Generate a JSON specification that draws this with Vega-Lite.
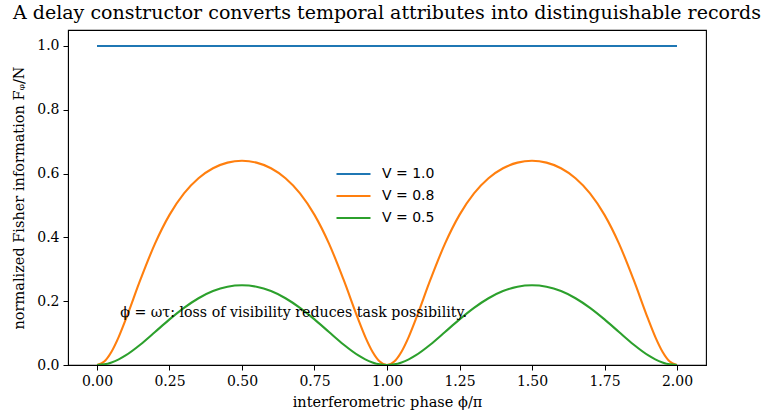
{
  "$schema": "https://vega.github.io/schema/vega-lite/v6.json",
  "width": 638,
  "height": 335,
  "autosize": {"type": "none"},
  "padding": {"left": 68, "top": 30, "right": 62, "bottom": 55},
  "background": "white",
  "title": {
    "text": "A delay constructor converts temporal attributes into distinguishable records",
    "font": "DejaVu Serif",
    "fontSize": 19,
    "fontWeight": "normal",
    "color": "#000000",
    "anchor": "middle",
    "frame": "group",
    "baseline": "bottom",
    "offset": 8,
    "dy": 20
  },
  "config": {
    "view": {"stroke": "#000000", "strokeWidth": 1.1},
    "axis": {
      "grid": false,
      "domainColor": "#000000",
      "tickColor": "#000000",
      "tickSize": 5,
      "labelFont": "DejaVu Serif",
      "labelFontSize": 14,
      "labelColor": "#000000",
      "labelPadding": 4,
      "titleFont": "DejaVu Serif",
      "titleFontSize": 14.5,
      "titleFontWeight": "normal",
      "titleColor": "#000000"
    }
  },
  "datasets": {
    "fisher": [
      {"phi": 0.00, "F": 1, "V": "V = 1.0"},
      {"phi": 0.50, "F": 1, "V": "V = 1.0"},
      {"phi": 1.00, "F": 1, "V": "V = 1.0"},
      {"phi": 1.50, "F": 1, "V": "V = 1.0"},
      {"phi": 2.00, "F": 1, "V": "V = 1.0"},

      {"phi": 0.000, "F": 0.0, "V": "V = 0.8"},
      {"phi": 0.025, "F": 0.0108, "V": "V = 0.8"},
      {"phi": 0.050, "F": 0.0417, "V": "V = 0.8"},
      {"phi": 0.075, "F": 0.0883, "V": "V = 0.8"},
      {"phi": 0.10, "F": 0.1451, "V": "V = 0.8"},
      {"phi": 0.15, "F": 0.2682, "V": "V = 0.8"},
      {"phi": 0.20, "F": 0.3805, "V": "V = 0.8"},
      {"phi": 0.25, "F": 0.4706, "V": "V = 0.8"},
      {"phi": 0.30, "F": 0.5378, "V": "V = 0.8"},
      {"phi": 0.35, "F": 0.5853, "V": "V = 0.8"},
      {"phi": 0.40, "F": 0.6166, "V": "V = 0.8"},
      {"phi": 0.45, "F": 0.6343, "V": "V = 0.8"},
      {"phi": 0.50, "F": 0.64, "V": "V = 0.8"},
      {"phi": 0.55, "F": 0.6343, "V": "V = 0.8"},
      {"phi": 0.60, "F": 0.6166, "V": "V = 0.8"},
      {"phi": 0.65, "F": 0.5853, "V": "V = 0.8"},
      {"phi": 0.70, "F": 0.5378, "V": "V = 0.8"},
      {"phi": 0.75, "F": 0.4706, "V": "V = 0.8"},
      {"phi": 0.80, "F": 0.3805, "V": "V = 0.8"},
      {"phi": 0.85, "F": 0.2682, "V": "V = 0.8"},
      {"phi": 0.90, "F": 0.1451, "V": "V = 0.8"},
      {"phi": 0.925, "F": 0.0883, "V": "V = 0.8"},
      {"phi": 0.950, "F": 0.0417, "V": "V = 0.8"},
      {"phi": 0.975, "F": 0.0108, "V": "V = 0.8"},
      {"phi": 1.000, "F": 0.0, "V": "V = 0.8"},
      {"phi": 1.025, "F": 0.0108, "V": "V = 0.8"},
      {"phi": 1.050, "F": 0.0417, "V": "V = 0.8"},
      {"phi": 1.075, "F": 0.0883, "V": "V = 0.8"},
      {"phi": 1.10, "F": 0.1451, "V": "V = 0.8"},
      {"phi": 1.15, "F": 0.2682, "V": "V = 0.8"},
      {"phi": 1.20, "F": 0.3805, "V": "V = 0.8"},
      {"phi": 1.25, "F": 0.4706, "V": "V = 0.8"},
      {"phi": 1.30, "F": 0.5378, "V": "V = 0.8"},
      {"phi": 1.35, "F": 0.5853, "V": "V = 0.8"},
      {"phi": 1.40, "F": 0.6166, "V": "V = 0.8"},
      {"phi": 1.45, "F": 0.6343, "V": "V = 0.8"},
      {"phi": 1.50, "F": 0.64, "V": "V = 0.8"},
      {"phi": 1.55, "F": 0.6343, "V": "V = 0.8"},
      {"phi": 1.60, "F": 0.6166, "V": "V = 0.8"},
      {"phi": 1.65, "F": 0.5853, "V": "V = 0.8"},
      {"phi": 1.70, "F": 0.5378, "V": "V = 0.8"},
      {"phi": 1.75, "F": 0.4706, "V": "V = 0.8"},
      {"phi": 1.80, "F": 0.3805, "V": "V = 0.8"},
      {"phi": 1.85, "F": 0.2682, "V": "V = 0.8"},
      {"phi": 1.90, "F": 0.1451, "V": "V = 0.8"},
      {"phi": 1.925, "F": 0.0883, "V": "V = 0.8"},
      {"phi": 1.950, "F": 0.0417, "V": "V = 0.8"},
      {"phi": 1.975, "F": 0.0108, "V": "V = 0.8"},
      {"phi": 2.000, "F": 0.0, "V": "V = 0.8"},

      {"phi": 0.000, "F": 0.0, "V": "V = 0.5"},
      {"phi": 0.025, "F": 0.0020, "V": "V = 0.5"},
      {"phi": 0.050, "F": 0.0081, "V": "V = 0.5"},
      {"phi": 0.075, "F": 0.0178, "V": "V = 0.5"},
      {"phi": 0.10, "F": 0.0308, "V": "V = 0.5"},
      {"phi": 0.15, "F": 0.0643, "V": "V = 0.5"},
      {"phi": 0.20, "F": 0.1033, "V": "V = 0.5"},
      {"phi": 0.25, "F": 0.1429, "V": "V = 0.5"},
      {"phi": 0.30, "F": 0.1791, "V": "V = 0.5"},
      {"phi": 0.35, "F": 0.2093, "V": "V = 0.5"},
      {"phi": 0.40, "F": 0.2317, "V": "V = 0.5"},
      {"phi": 0.45, "F": 0.2454, "V": "V = 0.5"},
      {"phi": 0.50, "F": 0.25, "V": "V = 0.5"},
      {"phi": 0.55, "F": 0.2454, "V": "V = 0.5"},
      {"phi": 0.60, "F": 0.2317, "V": "V = 0.5"},
      {"phi": 0.65, "F": 0.2093, "V": "V = 0.5"},
      {"phi": 0.70, "F": 0.1791, "V": "V = 0.5"},
      {"phi": 0.75, "F": 0.1429, "V": "V = 0.5"},
      {"phi": 0.80, "F": 0.1033, "V": "V = 0.5"},
      {"phi": 0.85, "F": 0.0643, "V": "V = 0.5"},
      {"phi": 0.90, "F": 0.0308, "V": "V = 0.5"},
      {"phi": 0.925, "F": 0.0178, "V": "V = 0.5"},
      {"phi": 0.950, "F": 0.0081, "V": "V = 0.5"},
      {"phi": 0.975, "F": 0.0020, "V": "V = 0.5"},
      {"phi": 1.000, "F": 0.0, "V": "V = 0.5"},
      {"phi": 1.025, "F": 0.0020, "V": "V = 0.5"},
      {"phi": 1.050, "F": 0.0081, "V": "V = 0.5"},
      {"phi": 1.075, "F": 0.0178, "V": "V = 0.5"},
      {"phi": 1.10, "F": 0.0308, "V": "V = 0.5"},
      {"phi": 1.15, "F": 0.0643, "V": "V = 0.5"},
      {"phi": 1.20, "F": 0.1033, "V": "V = 0.5"},
      {"phi": 1.25, "F": 0.1429, "V": "V = 0.5"},
      {"phi": 1.30, "F": 0.1791, "V": "V = 0.5"},
      {"phi": 1.35, "F": 0.2093, "V": "V = 0.5"},
      {"phi": 1.40, "F": 0.2317, "V": "V = 0.5"},
      {"phi": 1.45, "F": 0.2454, "V": "V = 0.5"},
      {"phi": 1.50, "F": 0.25, "V": "V = 0.5"},
      {"phi": 1.55, "F": 0.2454, "V": "V = 0.5"},
      {"phi": 1.60, "F": 0.2317, "V": "V = 0.5"},
      {"phi": 1.65, "F": 0.2093, "V": "V = 0.5"},
      {"phi": 1.70, "F": 0.1791, "V": "V = 0.5"},
      {"phi": 1.75, "F": 0.1429, "V": "V = 0.5"},
      {"phi": 1.80, "F": 0.1033, "V": "V = 0.5"},
      {"phi": 1.85, "F": 0.0643, "V": "V = 0.5"},
      {"phi": 1.90, "F": 0.0308, "V": "V = 0.5"},
      {"phi": 1.925, "F": 0.0178, "V": "V = 0.5"},
      {"phi": 1.950, "F": 0.0081, "V": "V = 0.5"},
      {"phi": 1.975, "F": 0.0020, "V": "V = 0.5"},
      {"phi": 2.000, "F": 0.0, "V": "V = 0.5"}
    ],
    "note": [
      {"phi": 0.08, "F": 0.15, "label": "ϕ = ωτ: loss of visibility reduces task possibility."}
    ]
  },
  "layer": [
    {
      "data": {"name": "fisher"},
      "mark": {"type": "line", "strokeWidth": 2.1, "interpolate": "monotone", "clip": true},
      "encoding": {
        "x": {
          "field": "phi",
          "type": "quantitative",
          "scale": {"domain": [-0.1, 2.1], "nice": false, "zero": false},
          "axis": {
            "title": "interferometric phase ϕ/π",
            "values": [0, 0.25, 0.5, 0.75, 1, 1.25, 1.5, 1.75, 2],
            "format": ".2f",
            "titlePadding": 7
          }
        },
        "y": {
          "field": "F",
          "type": "quantitative",
          "scale": {"domain": [0, 1.05], "nice": false},
          "axis": {
            "title": "normalized Fisher information Fᵩ/N",
            "values": [0, 0.2, 0.4, 0.6, 0.8, 1.0],
            "format": ".1f",
            "titlePadding": 10
          }
        },
        "color": {
          "field": "V",
          "type": "nominal",
          "scale": {
            "domain": ["V = 1.0", "V = 0.8", "V = 0.5"],
            "range": ["#1f77b4", "#ff7f0e", "#2ca02c"]
          },
          "legend": {
            "title": null,
            "orient": "none",
            "legendX": 267,
            "legendY": 133,
            "symbolType": "stroke",
            "symbolSize": 1156,
            "symbolStrokeWidth": 2.1,
            "clipHeight": 22,
            "labelFont": "DejaVu Sans",
            "labelFontSize": 14,
            "labelColor": "#000000",
            "labelOffset": 10,
            "rowPadding": 0
          }
        }
      }
    },
    {
      "data": {"name": "note"},
      "mark": {
        "type": "text",
        "font": "DejaVu Serif",
        "fontSize": 14.2,
        "align": "left",
        "baseline": "alphabetic",
        "color": "#000000"
      },
      "encoding": {
        "x": {"field": "phi", "type": "quantitative"},
        "y": {"field": "F", "type": "quantitative"},
        "text": {"field": "label"}
      }
    }
  ]
}
